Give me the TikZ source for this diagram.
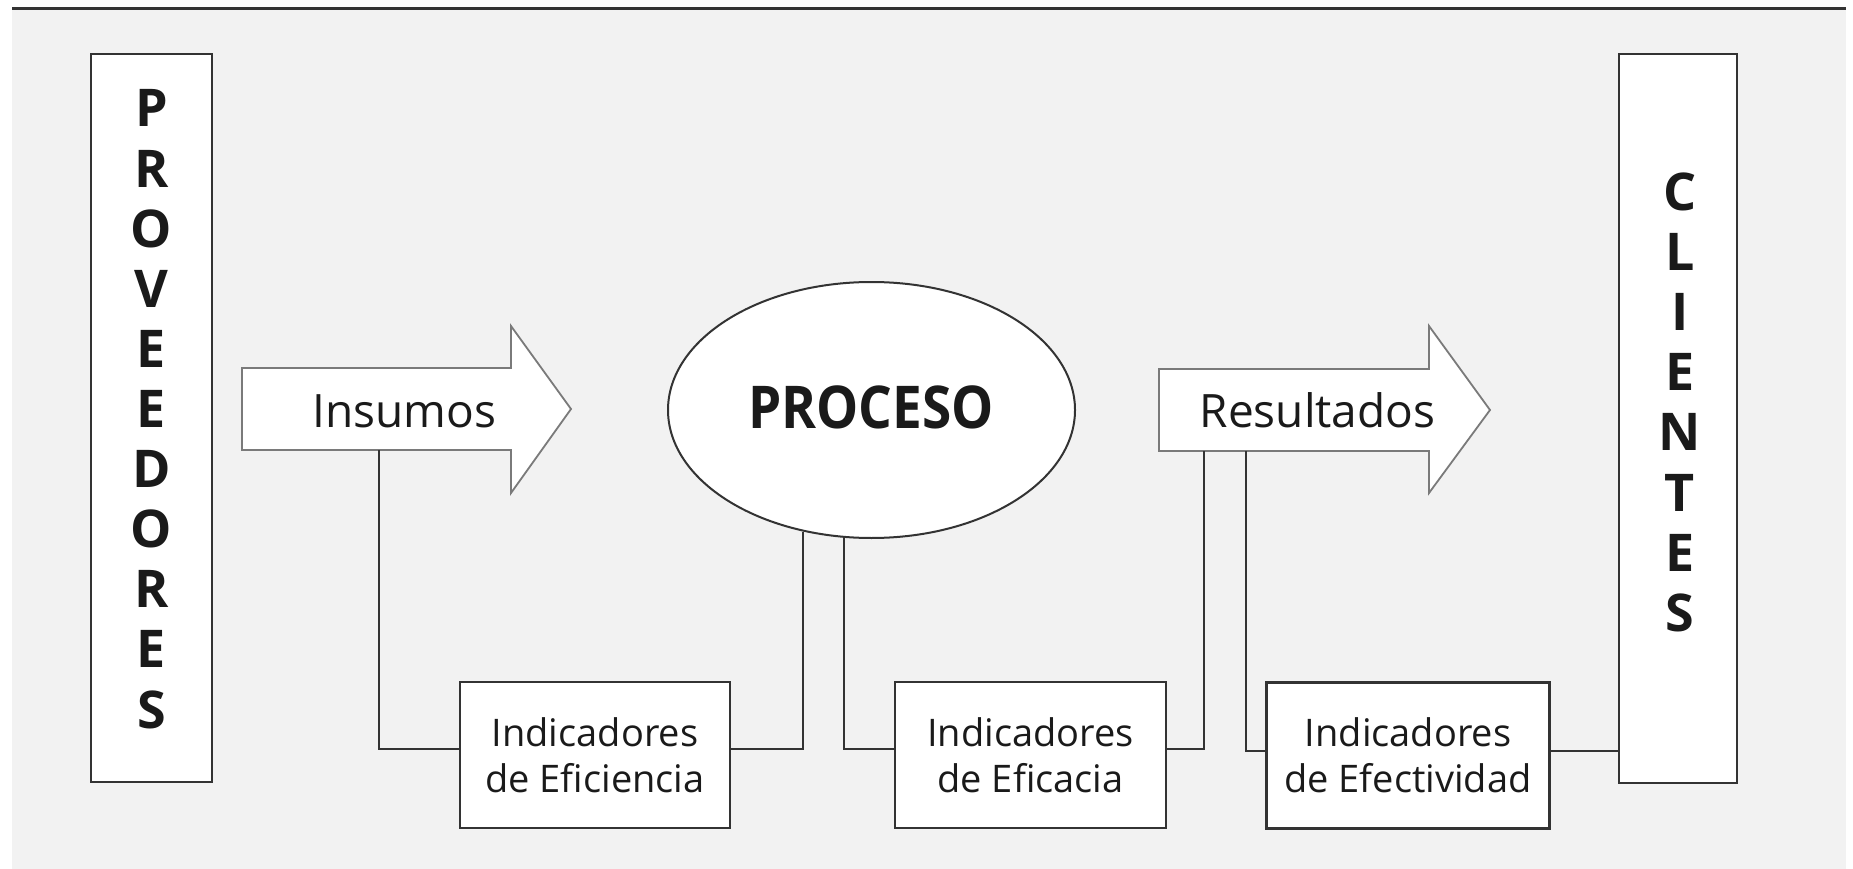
\documentclass[tikz,border=0pt]{standalone}
\usepackage{fontspec}
\setmainfont{Open Sans}
\newfontfamily\narrowfont{Open Sans}[FakeStretch=0.9]
\usetikzlibrary{shapes.geometric}
\definecolor{bg}{HTML}{F2F2F2}
\definecolor{ln}{HTML}{333333}
\definecolor{arr}{HTML}{7A7A7A}
\definecolor{tx}{HTML}{1A1A1A}
\begin{document}
\begin{tikzpicture}[x=1pt,y=-1pt,
  box/.style={draw=ln,line width=2.3pt,fill=white,inner sep=0pt},
  ind/.style={box,minimum height=146pt,align=center,text=tx,
    font=\fontsize{38}{46}\selectfont},
  conn/.style={draw=ln,line width=2pt},
  arrowshape/.style={draw=arr,line width=1.8pt,fill=white,line join=miter},
  vletter/.style={anchor=base,text=tx,inner sep=0pt,font=\fontsize{52}{60}\selectfont\bfseries},
  arrtext/.style={anchor=base,text=tx,inner sep=0pt,font=\fontsize{46}{56}\selectfont},
]
\useasboundingbox (0,0) rectangle (1853,869);
\fill[white] (0,0) rectangle (1853,869);
\fill[bg] (12,9) rectangle (1846,869);
\draw[ln,line width=2.5pt] (12,8.5) -- (1846,8.5);

% side boxes
\node[box,minimum width=121pt,minimum height=728pt] (prov) at (151.5,418) {};
\foreach \l [count=\i] in {P,R,O,V,E,E,D,O,R,E,S}
  \node[vletter] (pl\i) at (151.5,{127+60.1*(\i-1)}) {\l};
\node[box,minimum width=118pt,minimum height=729pt] (cli) at (1678,418.5) {};
\foreach \l [count=\i] in {C,L,I,E,N,T,E,S}
  \node[vletter] (cl\i) at (1680,{210.5+60.1*(\i-1)}) {\l};

% arrows
\draw[arrowshape] (242,368) -- (511,368) -- (511,326) -- (571,409) -- (511,493) -- (511,450) -- (242,450) -- cycle;
\node[arrtext] (ins) at (404.5,427) {Insumos};
\draw[arrowshape] (1159,369) -- (1429,369) -- (1429,326) -- (1490,410) -- (1429,493) -- (1429,451) -- (1159,451) -- cycle;
\node[arrtext] (res) at (1317.5,427) {Resultados};

% process
\node[ellipse,draw=ln,line width=2pt,fill=white,minimum width=407pt,minimum height=256pt,inner sep=0pt] (proc) at (871.5,410) {};
\node[anchor=base,inner sep=0pt,text=tx,font=\fontsize{59}{70}\selectfont\narrowfont\bfseries] (proct) at (871,428) {PROCESO};

% indicator boxes
\node[ind,minimum width=270pt] (ind1) at (595,755) {Indicadores\\de Eficiencia};
\node[ind,minimum width=271pt] (ind2) at (1030.5,755) {Indicadores\\de Eficacia};
\node[ind,minimum width=283pt] (ind3) at (1408,755.5) {Indicadores\\de Efectividad};

% connector end points
\coordinate (insB) at (379,450);
\coordinate (procA) at (803,532);
\coordinate (procB) at (844,537);
\coordinate (resA) at (1204,451);
\coordinate (resB) at (1246,451);
\coordinate (i1w) at ([yshift=6pt]ind1.west);
\coordinate (i1e) at ([yshift=6pt]ind1.east);
\coordinate (i2w) at ([yshift=6pt]ind2.west);
\coordinate (i2e) at ([yshift=6pt]ind2.east);
\coordinate (i3w) at ([yshift=5pt]ind3.west);
\coordinate (i3e) at ([yshift=5pt]ind3.east);

\draw[conn] (insB) |- (i1w);
\draw[conn] (i1e) -| (procA);
\draw[conn] (procB) |- (i2w);
\draw[conn] (i2e) -| (resA);
\draw[conn] (resB) |- (i3w);
\draw[conn] (i3e) -- (i3e -| cli.west);
\end{tikzpicture}
\end{document}
